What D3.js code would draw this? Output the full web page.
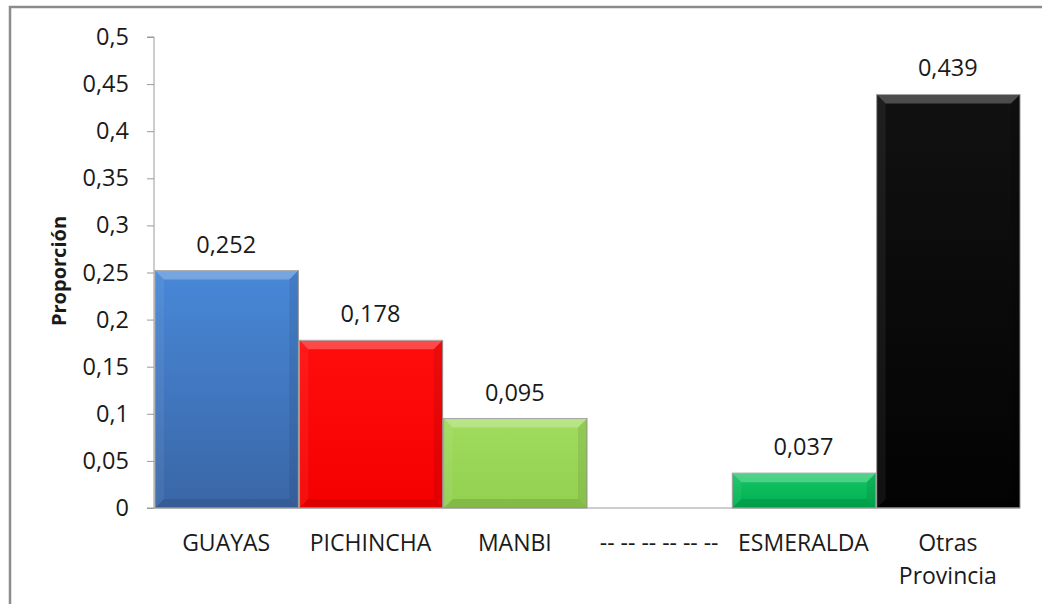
<!DOCTYPE html>
<html>
<head>
<meta charset="utf-8">
<script src="https://cdn.jsdelivr.net/npm/d3@7"></script>
<style>
  body { margin: 0; background: #fff; }
  text { font-family: "Open Sans", sans-serif; fill: #1a1a1a; }
</style>
</head>
<body>
<div id="chart"></div>
<script>
// data
var provincias = ["GUAYAS", "PICHINCHA", "MANBI", "-- -- -- -- -- --", "ESMERALDA", "Otras Provincia"];
var proporcion = [0.252, 0.178, 0.095, null, 0.037, 0.439];
var etiquetas = ["0,252", "0,178", "0,095", "", "0,037", "0,439"];
var yTicks = [0, 0.05, 0.1, 0.15, 0.2, 0.25, 0.3, 0.35, 0.4, 0.45, 0.5];
var colores = [
  ["#4888d8", "#3a66a6"],
  ["#ff0d0d", "#f50000"],
  ["#a0dc5e", "#92d050"],
  [null, null],
  ["#15c464", "#00b050"],
  ["#111111", "#030303"]
];

var width = 1042, height = 604;
var margin = {left: 154, right: 22, top: 37, bottom: 96};

var svg = d3.select("#chart").append("svg")
    .attr("width", width)
    .attr("height", height);

// outer frame (only top and left visible)
svg.append("path")
    .attr("d", "M10,604 L10,7 L1042,7")
    .attr("fill", "none")
    .attr("stroke", "#8c8c8c")
    .attr("stroke-width", 2.5);

var x = d3.scaleBand()
    .domain(provincias)
    .range([margin.left, width - margin.right])
    .padding(0);

var y = d3.scaleLinear()
    .domain([0, 0.5])
    .range([height - margin.bottom, margin.top]);

var data = provincias.map(function (p, i) {
  return {name: p, value: proporcion[i], label: etiquetas[i], c: colores[i], i: i};
}).filter(function (d) { return d.value !== null; });

var defs = svg.append("defs");
data.forEach(function (d) {
  var g = defs.append("linearGradient")
      .attr("id", "grad" + d.i)
      .attr("x1", 0).attr("y1", 0).attr("x2", 0).attr("y2", 1);
  g.append("stop").attr("offset", "0%").attr("stop-color", d.c[0]);
  g.append("stop").attr("offset", "100%").attr("stop-color", d.c[1]);
});

var bev = 9;
var bars = svg.append("g").selectAll("g.bar")
  .data(data)
  .enter().append("g")
    .attr("class", "bar");

bars.append("rect")
    .attr("x", function (d) { return x(d.name) + 1; })
    .attr("y", function (d) { return y(d.value); })
    .attr("width", x.bandwidth() - 1)
    .attr("height", function (d) { return y(0) - y(d.value); })
    .attr("fill", function (d) { return "url(#grad" + d.i + ")"; })
    .attr("stroke", "#9a9a9a")
    .attr("stroke-width", 1);

// bevel faces
function face(d, side) {
  var x0 = x(d.name) + 1, x1 = x0 + x.bandwidth() - 1;
  var y0 = y(d.value), y1 = y(0);
  var b = Math.min(bev, (y1 - y0) / 2);
  if (side === "top") return [[x0, y0], [x1, y0], [x1 - b, y0 + b], [x0 + b, y0 + b]];
  if (side === "left") return [[x0, y0], [x0 + b, y0 + b], [x0 + b, y1 - b], [x0, y1]];
  if (side === "right") return [[x1, y0], [x1 - b, y0 + b], [x1 - b, y1 - b], [x1, y1]];
  return [[x0, y1], [x0 + b, y1 - b], [x1 - b, y1 - b], [x1, y1]];
}
var faces = [
  {side: "top", fill: "#ffffff", op: 0.25},
  {side: "left", fill: "#ffffff", op: 0.06},
  {side: "right", fill: "#000000", op: 0.08},
  {side: "bottom", fill: "#000000", op: 0.1}
];
faces.forEach(function (f) {
  bars.append("polygon")
      .attr("points", function (d) { return face(d, f.side).join(" "); })
      .attr("fill", f.fill)
      .attr("fill-opacity", f.op);
});

// value labels
svg.append("g").selectAll("text")
  .data(data)
  .enter().append("text")
    .attr("x", function (d) { return x(d.name) + x.bandwidth() / 2; })
    .attr("y", function (d) { return y(d.value) - 18; })
    .attr("text-anchor", "middle")
    .style("font-size", "23.5px")
    .text(function (d) { return d.label; });

// y axis
var yAxis = d3.axisLeft(y)
    .tickValues(yTicks)
    .tickSize(7)
    .tickPadding(18)
    .tickFormat(function (d) { return String(d).replace(".", ","); });
var ya = svg.append("g")
    .attr("transform", "translate(" + margin.left + ",0)")
    .call(yAxis);
ya.select(".domain").attr("stroke", "#9a9a9a").attr("d", "M-7," + y(0.5) + "H0V" + y(0) + "H-7");
ya.selectAll(".tick line").attr("stroke", "#9a9a9a");
ya.selectAll(".tick text").style("font-size", "23.5px").style("font-family", "'Open Sans', sans-serif").attr("fill", "#1a1a1a");

// x axis
var xAxis = d3.axisBottom(x).tickSize(0).tickPadding(27);
var xa = svg.append("g")
    .attr("transform", "translate(0," + y(0) + ")")
    .call(xAxis);
xa.select(".domain").attr("stroke", "#9a9a9a").attr("d", "M" + margin.left + ",0H" + (width - margin.right));
xa.selectAll(".tick text")
    .style("font-size", "23px")
    .style("font-family", "'Open Sans', sans-serif")
    .attr("fill", "#1a1a1a")
    .each(function (d) {
      if (d === "Otras Provincia") {
        var t = d3.select(this).text(null);
        t.append("tspan").attr("x", 0).attr("dy", "0.71em").text("Otras");
        t.append("tspan").attr("x", 0).attr("dy", "1.4em").text("Provincia");
      }
    });

// y title
svg.append("text")
    .attr("transform", "translate(66,271) rotate(-90)")
    .attr("text-anchor", "middle")
    .style("font-size", "20px")
    .style("font-weight", "bold")
    .text("Proporción");
</script>
</body>
</html>
